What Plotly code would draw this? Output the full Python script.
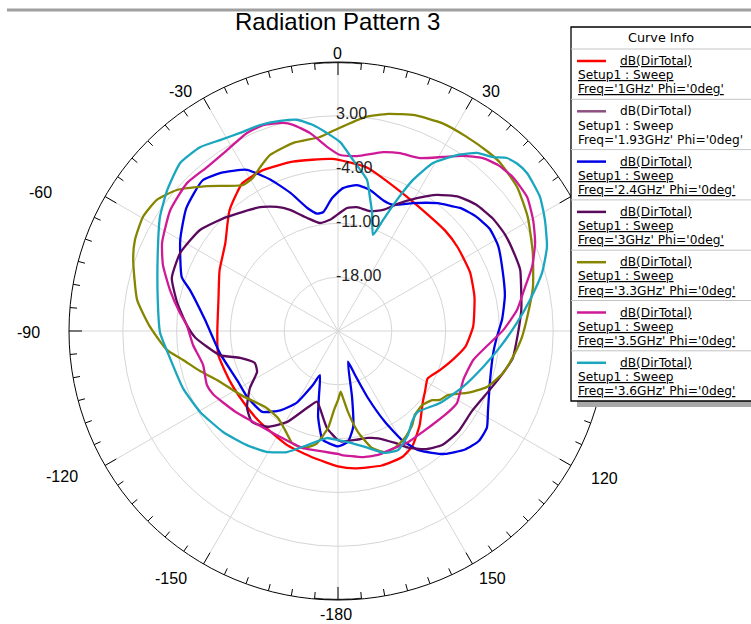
import plotly.graph_objects as go

# ---------------- data (dB(DirTotal) vs theta in degrees) ----------------
FREQS = ["1GHz", "1.93GHz", "2.4GHz", "3GHz", "3.3GHz", "3.5GHz", "3.6GHz"]
COLORS = ["#ff0000", "#8e4f80", "#0000e6", "#5a0a5c", "#858500", "#cf1a97", "#1aa6bf"]
UNDERLINED = [True, False, True, True, True, True, True]

theta_1ghz = [-180, -169, -156, -139, -127, -115, -101, -90, -75, -63, -52, -46, -42, -37, -33, -25, -15, -2, 10, 25,
              35, 47, 55, 66, 76, 88, 97, 104, 111, 118, 124, 130, 139, 147, 153, 162, 173, 180]
db_1ghz = [-7.4, -8.2, -8.75, -9.4, -9.6, -9.5, -9.1, -9.3, -8.9, -7.7, -6.4, -5.0, -3.9, -2.9, -2.1, -1.9, -2.2, -2.6,
           -3.4, -5.2, -5.8, -5.9, -6.0, -6.2, -6.7, -7.4, -8.3, -9.6, -10.8, -11.8, -11.3, -10.6, -8.8, -7.2, -6.6,
           -6.6, -7.0, -7.4]

theta_2p4ghz = [-180, -172, -167, -163.5, -157.7, -155, -150, -144, -137, -126, -116, -101, -85, -74.5, -71, -60, -51,
                -42, -36, -29.5, -24, -19, -14, -10, -7, -2.6, 2, 7.4, 12.8, 19, 23.6, 30.4, 38, 42, 45, 50, 56, 62,
                70, 78, 86, 92, 98, 108, 118, 123, 128, 133, 139, 142.4, 146, 149.6, 152.7, 155.9, 158.9, 162, 168,
                171, 175, 180]
db_2p4ghz = [-10.0, -10.7, -13.5, -16.3, -18.8, -17.2, -14.2, -12.25, -10.6, -10.4, -10.4, -9.4, -7.6, -5.0, -3.5,
             -1.3, 0.4, 1.35, 0.5, -0.9, -3.45, -6.0, -8.5, -9.5, -9.4, -7.7, -6.4, -5.85, -6.2, -7.0, -7.1, -5.7,
             -3.9, -3.1, -2.4, -1.7, -1.2, -1.4, -2.2, -2.8, -3.6, -4.3, -4.6, -4.2, -2.9, -1.9, -1.75, -2.4, -3.8,
             -5.0, -6.3, -8.55, -11.7, -15.45, -18.9, -20.8, -16.2, -12.35, -10.5, -10.0]

theta_3ghz = [-180, -173.5, -166.8, -163.5, -158, -150.7, -143.5, -136.6, -130.2, -122.9, -116.8, -111.1, -105.4,
              -101.5, -92.6, -87.7, -80, -72.3, -63.7, -53.8, -44.2, -32.2, -26.2, -21.6, -15.3, -9.5, -4.1, 0, 4.2,
              8.7, 14.9, 20.4, 24.9, 30.7, 36, 42, 47.5, 54, 60, 66, 71.5, 76.5, 83.5, 91, 99, 104, 111, 121, 130,
              137.6, 143.6, 149, 153, 159.5, 164.3, 171, 178, 180]
db_3ghz = [-10.8, -12.3, -14.7, -15.4, -14.2, -11.4, -9.5, -8.7, -9.5, -11.35, -13.2, -13.4, -11.8, -9.3, -6.4, -5.3,
           -3.75, -2.3, -2.1, -2.75, -4.3, -5.95, -7.0, -8.05, -9.75, -10.75, -10.5, -9.8, -8.95, -8.7, -8.85, -8.2,
           -6.8, -4.9, -3.1, -1.5, -0.65, -0.1, 0.1, 0.05, 0.0, -0.5, -1.0, -1.6, -2.0, -2.8, -3.8, -4.7, -4.6, -4.9,
           -5.9, -7.3, -8.65, -10.1, -10.55, -10.65, -10.6, -10.8]

theta_3p3ghz = [-180, -177.1, -174.1, -169, -163.3, -157.7, -151.8, -145.4, -136.2, -124.4, -112, -106.2, -100.6,
                -96.3, -88.6, -81.2, -70.9, -65.9, -59.7, -54.1, -48.8, -42.1, -33, -29.1, -25.4, -21.1, -13.5, -5.3,
                -0.9, 7.2, 13, 19.6, 26.6, 33.2, 40, 44, 51.2, 59, 68.2, 77.3, 84.6, 91.9, 98.5, 104.3, 110.6, 115.7,
                120.2, 124.1, 126.3, 131.4, 137.5, 141.8, 147.9, 154, 158.8, 163.8, 168.8, 173, 176.4, 177.5, 180]
db_3p3ghz = [-16.0, -14.7, -12.3, -10.0, -9.1, -9.25, -10.4, -11.25, -11.3, -10.0, -8.0, -6.3, -4.5, -2.6, -0.5, 1.45,
             3.2, 3.95, 4.4, 4.1, 2.85, 0.4, -2.35, -2.2, -1.4, -0.45, 0.15, 0.35, 1.15, 3.05, 4.0, 4.8, 5.25, 5.3,
             5.4, 5.4, 4.9, 3.8, 2.3, 1.0, -0.15, -1.05, -2.0, -2.85, -4.3, -6.4, -8.45, -9.0, -9.8, -10.4, -10.2,
             -9.4, -8.6, -8.1, -8.1, -9.15, -11.6, -14.4, -16.65, -17.1, -16.0]

theta_3p5ghz = [-180, -172.5, -163, -152, -140, -128, -117, -112.4, -104.1, -95.5, -87.7, -83.5, -76.3, -69.3, -63.4,
                -54.2, -45.6, -38.6, -31.5, -24.7, -20, -14.8, -12.3, -8, -3.4, 0.7, 6.2, 14.1, 19.2, 25.4, 31.1,
                35.5, 40, 44, 48.7, 54.7, 60.4, 65.9, 71.7, 76.8, 83.3, 89.7, 94.5, 102.1, 111.4, 121.2, 128.1, 135,
                142.4, 147.8, 154, 162.1, 169.2, 178.2, 180]
db_3p5ghz = [-9.0, -9.2, -9.1, -9.3, -9.0, -8.0, -6.8, -6.55, -6.9, -6.05, -5.3, -4.3, -2.5, -0.65, 0.6, 1.9, 2.5, 2.3,
             2.6, 3.35, 3.5, 3.0, 2.45, 1.0, -1.0, -2.1, -2.1, -1.0, -0.5, -0.1, 1.45, 3.0, 4.35, 5.0, 5.3, 5.15, 4.2,
             3.1, 1.6, 0.0, -1.55, -3.5, -5.15, -7.0, -7.5, -6.9, -7.3, -7.7, -7.9, -7.9, -8.1, -8.05, -8.3, -8.85,
             -9.0]

theta_3p6ghz = [-180, -174.1, -164.8, -157.1, -149.6, -141.4, -131.3, -120.4, -110.2, -99.1, -90.6, -80.2, -65.8,
                -57.4, -50.5, -43.2, -36.9, -31.7, -26.3, -20.7, -15.4, -11, -6.9, -3.2, 0.6, 5, 10.9, 13.4, 16.1,
                20, 22.1, 24.2, 26.4, 29.5, 34.1, 38, 41.7, 44.3, 47, 50.1, 56.4, 61.8, 68.1, 74.1, 80.8, 87.4, 95.6,
                103.9, 114.1, 125.2, 135.4, 140.9, 146, 153.2, 158.9, 165.6, 172.9, 180]
db_3p6ghz = [-10.8, -11.0, -9.6, -7.9, -6.75, -6.0, -5.1, -4.2, -3.5, -2.85, -1.85, -1.2, 0.7, 2.5, 3.8, 5.0, 4.9, 4.2,
             3.75, 3.65, 3.35, 3.0, 2.0, 0.8, -0.4, -2.65, -5.0, -7.1, -9.0, -11.7, -9.4, -6.3, -3.05, 0.1, 2.65, 4.4,
             5.3, 6.45, 6.9, 7.05, 6.55, 5.55, 4.3, 2.6, 0.3, -1.7, -3.8, -5.55, -7.2, -8.75, -10.2, -9.75, -8.7,
             -7.65, -8.0, -9.3, -10.3, -10.8]

# visible curves (the 1.93GHz curve is not drawn in the reference)
CURVES = [
    (0, theta_1ghz, db_1ghz),
    (2, theta_2p4ghz, db_2p4ghz),
    (3, theta_3ghz, db_3ghz),
    (4, theta_3p3ghz, db_3p3ghz),
    (5, theta_3p5ghz, db_3p5ghz),
    (6, theta_3p6ghz, db_3p6ghz),
]

RADIAL_TICKS = [-18, -11, -4, 3]
ANGLE_TICKS = list(range(0, 360, 30))
ANGLE_LABELS = ["0", "30", "-30", "-60", "-90", "-120", "120", "-150", "150", "-180"]

# ---------------- layout geometry (pixels) ----------------
W, H = 751, 624
CX, CY, R = 338, 331, 269
RMIN, RMAX = -25, 10
FONT = "Liberation Sans, Arial, sans-serif"
LEG_FONT = "DejaVu Sans, Liberation Sans, sans-serif"
# label centres for the angular labels (pixels)
ANGLE_LABEL_POS = [(337, 53), (491, 91), (180, 91), (40, 192), (28, 332), (62, 477), (604, 478),
                   (171, 578), (493, 578), (336, 614)]


def px(x):
    return x / W


def py(y):
    return 1 - y / H


fig = go.Figure()

for idx, th, db in CURVES:
    fig.add_trace(go.Scatterpolar(
        theta=th, r=db, mode="lines",
        line=dict(color=COLORS[idx], width=2.3, shape="spline", smoothing=0.5),
        name=f"Freq='{FREQS[idx]}'", showlegend=False, hoverinfo="skip",
    ))

# angular tick marks every 5 degrees (pointing inwards)
tick_t, tick_r = [], []
for a in range(0, 360, 5):
    L = 13 if a % 30 == 0 else 7
    tick_t += [a, a, None]
    tick_r += [RMAX, RMAX - L * (RMAX - RMIN) / R, None]
fig.add_trace(go.Scatterpolar(theta=tick_t, r=tick_r, mode="lines", line=dict(color="black", width=1),
                              showlegend=False, hoverinfo="skip", cliponaxis=False))
for c in (0, 180):
    arc = [c - 5 + i for i in range(11)]
    fig.add_trace(go.Scatterpolar(theta=arc, r=[RMAX] * len(arc), mode="lines",
                                  line=dict(color="#333333", width=2.5), showlegend=False,
                                  hoverinfo="skip", cliponaxis=False))

fig.update_layout(
    width=W, height=H, margin=dict(l=0, r=0, t=0, b=0),
    paper_bgcolor="white", plot_bgcolor="white",
    polar=dict(
        domain=dict(x=[px(CX - R), px(CX + R)], y=[py(CY + R), py(CY - R)]),
        bgcolor="white",
        angularaxis=dict(direction="clockwise", rotation=90, tickmode="array", tickvals=ANGLE_TICKS,
                         showticklabels=False, ticks="", showgrid=True, gridcolor="#d6d6d6", gridwidth=1,
                         showline=True, linecolor="black", linewidth=1),
        radialaxis=dict(range=[RMIN, RMAX], tickmode="array", tickvals=RADIAL_TICKS, showticklabels=False,
                        ticks="", showline=False, showgrid=True, gridcolor="#d6d6d6", gridwidth=1),
    ),
)

shapes = []
annotations = []

# top grey bar
shapes.append(dict(type="line", xref="paper", yref="paper", x0=px(7), x1=px(751), y0=py(10), y1=py(10),
                   line=dict(color="#a0a0a0", width=3)))

# title
annotations.append(dict(text="Radiation Pattern 3", x=px(337), y=py(22), xref="paper", yref="paper",
                        xanchor="center", yanchor="middle", showarrow=False,
                        font=dict(family=FONT, size=24, color="black")))

# radial labels
for v in RADIAL_TICKS:
    yy = CY - (v - RMIN) / (RMAX - RMIN) * R - 2
    annotations.append(dict(text=f"{v:.2f}", x=px(334), y=py(yy), xref="paper", yref="paper",
                            xanchor="left", yanchor="middle", showarrow=False,
                            font=dict(family=FONT, size=16, color="#222222")))

# angular labels
for lab, (lx, ly) in zip(ANGLE_LABELS, ANGLE_LABEL_POS):
    annotations.append(dict(text=lab, x=px(lx), y=py(ly), xref="paper", yref="paper",
                            xanchor="center", yanchor="middle", showarrow=False,
                            font=dict(family=FONT, size=16, color="black")))

# legend box ("Curve Info")
LX0, LX1, LY0, LY1 = 571, 760, 27, 401
EY0, EPITCH = 61, 50.3
LINE_DY = [0, 14.2, 28.4]
shapes.append(dict(type="rect", xref="paper", yref="paper", x0=px(577), x1=px(760), y0=py(LY1), y1=py(LY1 + 6),
                   fillcolor="#a8a8a8", line=dict(width=0), layer="above"))
shapes.append(dict(type="rect", xref="paper", yref="paper", x0=px(LX0), x1=px(LX1), y0=py(LY1), y1=py(LY0),
                   fillcolor="white", line=dict(color="black", width=1.3), layer="above"))
annotations.append(dict(text="Curve Info", x=px(661), y=py(37), xref="paper", yref="paper",
                        xanchor="center", yanchor="middle", showarrow=False,
                        font=dict(family=LEG_FONT, size=12.8, color="black")))
for k, f in enumerate(FREQS):
    ey = EY0 + k * EPITCH
    shapes.append(dict(type="line", xref="paper", yref="paper", x0=px(LX0), x1=px(LX1), y0=py(ey - 12),
                       y1=py(ey - 12), line=dict(color="#c4c4c4", width=1), layer="above"))
    shapes.append(dict(type="line", xref="paper", yref="paper", x0=px(577), x1=px(606), y0=py(ey), y1=py(ey),
                       line=dict(color=COLORS[k], width=2.5), layer="above"))
    lines = ["dB(DirTotal)", "Setup1 : Sweep", f"Freq='{f}' Phi='0deg'"]
    xs = [619, 577, 577]
    for j, (t, xx) in enumerate(zip(lines, xs)):
        txt = f"<u>{t}</u>" if UNDERLINED[k] else t
        annotations.append(dict(text=txt, x=px(xx), y=py(ey + LINE_DY[j]), xref="paper", yref="paper",
                                xanchor="left", yanchor="middle", showarrow=False, borderpad=0,
                                font=dict(family=LEG_FONT, size=12.2, color="black")))

fig.update_layout(shapes=shapes, annotations=annotations)
fig.write_html("out.html", config={"displayModeBar": False},
               post_script="document.body.style.margin='0px';")
